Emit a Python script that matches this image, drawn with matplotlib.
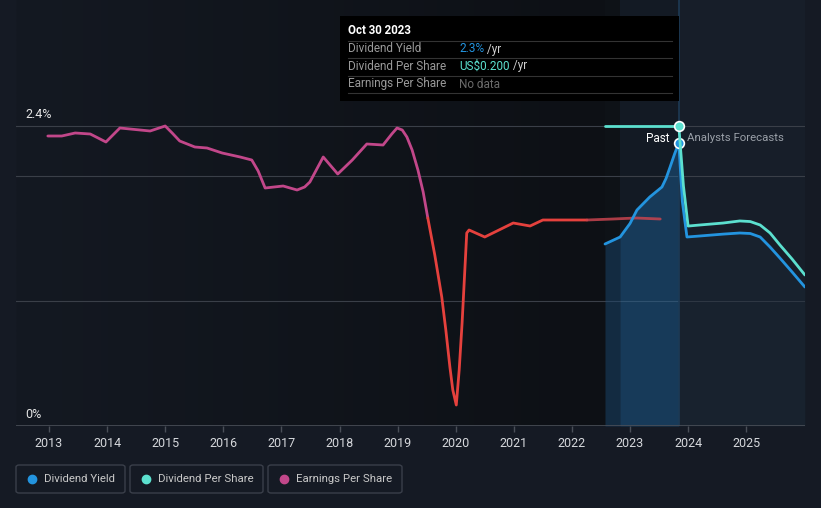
#!/usr/bin/env python

"""
Dividend yield / dividend per share / earnings per share history and forecast
"""

import numpy as np
import matplotlib
matplotlib.use("Agg")
import matplotlib.pyplot as plt
from matplotlib.patches import Rectangle, FancyBboxPatch
from matplotlib.colors import LinearSegmentedColormap

plt.rcParams["font.family"] = ["Roboto", "DejaVu Sans"]

# earnings per share (US$), past
eps_year = [2012.98, 2013.22, 2013.45, 2013.71, 2013.98, 2014.22, 2014.74,
            2015.00, 2015.12, 2015.25, 2015.51, 2015.72, 2015.98, 2016.29,
            2016.49, 2016.60, 2016.72, 2017.03, 2017.27, 2017.40, 2017.49,
            2017.72, 2017.97, 2018.22, 2018.47, 2018.75, 2018.90, 2018.99,
            2019.08, 2019.16, 2019.25, 2019.35, 2019.44, 2019.52]
eps_val = [2.90, 2.90, 2.93, 2.92, 2.84, 2.98, 2.95,
           3.00, 2.93, 2.85, 2.79, 2.78, 2.73, 2.69,
           2.66, 2.55, 2.38, 2.40, 2.36, 2.39, 2.44,
           2.69, 2.52, 2.66, 2.82, 2.81, 2.92, 2.98,
           2.96, 2.89, 2.76, 2.56, 2.34, 2.08]

# the part drawn in red (earnings fall)
eps_red_year = [2019.52, 2019.64, 2019.76, 2019.83, 2019.90, 2019.95, 2020.01,
                2020.06, 2020.11, 2020.19, 2020.23, 2020.50, 2020.99, 2021.28,
                2021.50, 2022.26, 2022.71, 2023.10, 2023.52]
eps_red_val = [2.08, 1.71, 1.29, 0.96, 0.59, 0.36, 0.21,
               0.56, 1.03, 1.93, 1.96, 1.89, 2.03, 2.00,
               2.06, 2.06, 2.07, 2.08, 2.07]

# dividend yield (%)
dy_past_year = [2022.57, 2022.83, 2023.00, 2023.12, 2023.34, 2023.55,
                2023.62, 2023.69, 2023.77, 2023.84]
dy_past_val = [1.456, 1.512, 1.62, 1.728, 1.832, 1.912,
               1.98, 2.072, 2.18, 2.264]
dy_fc_year = [2023.84, 2023.90, 2023.98, 2024.20, 2024.60, 2024.89, 2025.07,
              2025.24, 2025.41, 2025.58, 2025.79, 2026.01]
dy_fc_val = [2.264, 1.80, 1.512, 1.52, 1.535, 1.544, 1.540,
             1.512, 1.432, 1.344, 1.232, 1.112]

# dividend per share (US$)
dps_past_year = [2022.57, 2023.84]
dps_past_val = [0.200, 0.200]
dps_fc_year = [2023.84, 2023.92, 2024.00, 2024.20, 2024.60, 2024.89, 2025.07,
               2025.24, 2025.41, 2025.58, 2025.79, 2026.01]
dps_fc_val = [0.200, 0.160, 0.1333, 0.134, 0.1353, 0.1367, 0.1363,
              0.1340, 0.1287, 0.1207, 0.1113, 0.1007]

years = list(range(2013, 2026))
now = 2023.84

W, H = 821, 508
BG = "#151a24"
C_DY = "#2394df"
C_DPS = "#5ce0cf"
C_EPS = "#c2478a"
C_RED = "#e5413d"


def fx(x):
    return x / W


def fy(y):
    return 1.0 - y / H


def main():

    fig = plt.figure(figsize=(W / 100, H / 100), dpi=100)
    fig.patch.set_facecolor(BG)

    ax = fig.add_axes([fx(16), fy(426), (805 - 16) / W, 426 / H])
    ax.set_facecolor("#171e29")
    xmin, xmax = 2012.432, 2026.012
    ytop = 3.408
    ax.set_xlim(xmin, xmax)
    ax.set_ylim(0, ytop)

    # darker past region, fading to the right
    cmap = LinearSegmentedColormap.from_list("past", ["#141922", "#0d1015"])
    grad = np.linspace(0, 1, 256).reshape(1, -1)
    ax.imshow(grad, extent=(xmin, 2022.57, 0, ytop), aspect="auto",
              cmap=cmap, zorder=0)
    ax.axvspan(2022.57, 2022.83, color="#0e1217", lw=0, zorder=0.1)
    ax.axvspan(2022.83, now, color="#131a24", lw=0, zorder=0.1)

    # grid
    for g in [1.0, 2.0, 2.4]:
        ax.axhline(g, color="#3a3f48", lw=0.8, zorder=1)
    ax.axhline(0, color="#4a4f58", lw=1.2, zorder=2)

    # fill under yield line
    ax.fill_between(dy_past_year[:2], dy_past_val[:2], 0, color="#1a4a75",
                    alpha=0.45, lw=0, zorder=1.5)
    ax.fill_between(dy_past_year[1:], dy_past_val[1:], 0, color="#1f6fb0",
                    alpha=0.38, lw=0, zorder=1.5)
    ax.fill_between(dy_fc_year, dy_fc_val, 0, color="#1a2a3a",
                    alpha=0.35, lw=0, zorder=1.5)
    ax.axvline(now, color="#1d3a55", lw=1.2, zorder=1.6)

    # eps on its own scale
    ax_eps = ax.twinx()
    ax_eps.set_ylim(0, 4.26)
    ax_eps.axis("off")
    ax_eps.plot(eps_year, eps_val, color=C_EPS, lw=2.0,
                solid_capstyle="round", solid_joinstyle="round")
    ax_eps.plot(eps_red_year[:-3], eps_red_val[:-3], color=C_RED, lw=2.0,
                solid_capstyle="round", solid_joinstyle="round")
    ax_eps.plot(eps_red_year[-4:], eps_red_val[-4:], color="#c8444f", lw=2.0,
                alpha=0.85, solid_capstyle="round")

    # dps on its own scale
    ax_dps = ax.twinx()
    ax_dps.set_ylim(0, 0.284)
    ax_dps.axis("off")
    ax_dps.plot(dps_past_year, dps_past_val, color=C_DPS, lw=2.0,
                solid_capstyle="round", zorder=3)
    ax_dps.plot(dps_fc_year, dps_fc_val, color=C_DPS, lw=2.0,
                solid_capstyle="round", solid_joinstyle="round", zorder=3)
    ax_dps.plot([now], [dps_past_val[-1]], "o", ms=7, color=C_DPS,
                mec="white", mew=1.2, zorder=5)

    # yield on the main scale
    ax_dy = ax.twinx()
    ax_dy.set_ylim(0, ytop)
    ax_dy.axis("off")
    ax_dy.plot(dy_past_year, dy_past_val, color=C_DY, lw=2.0,
               solid_capstyle="round", solid_joinstyle="round", zorder=3)
    ax_dy.plot(dy_fc_year, dy_fc_val, color=C_DY, lw=2.0,
               solid_capstyle="round", solid_joinstyle="round", zorder=3)
    ax_dy.plot([now], [dy_past_val[-1]], "o", ms=7, color=C_DY,
               mec="white", mew=1.2, zorder=5)
    ax_dps.set_zorder(ax_dy.get_zorder() + 1)
    ax_dps.patch.set_visible(False)

    # axes styling
    for s in ax.spines.values():
        s.set_visible(False)
    ax.set_yticks([])
    ax.set_xticks(years)
    ax.set_xticklabels([str(y) for y in years])
    ax.tick_params(axis="x", colors="#4a4f58", length=4, width=1,
                   labelcolor="#d6d8dc", labelsize=9, pad=4)

    ax.text(2013 - 24 / 58.1, 2.4 + 12 * 0.008, "2.4%", color="#e6e6e6",
            fontsize=9, va="center", ha="left")
    ax.text(2013 - 24 / 58.1, 12 * 0.008, "0%", color="#e6e6e6",
            fontsize=9, va="center", ha="left")
    ax_dps.text(now - 9 / 58.1, 0.2 - 12 / 300 * 0.2, "Past", color="white",
                fontsize=8.5, ha="right", va="center", zorder=6)
    ax_dps.text(now + 8 / 58.1, 0.2 - 12 / 300 * 0.2, "Analysts Forecasts",
                color="#9aa0a8", fontsize=8.2, ha="left", va="center",
                zorder=6)

    # tooltip
    fig.add_artist(Rectangle((fx(340), fy(101)), 339 / W, 85 / H,
                             transform=fig.transFigure, facecolor="black",
                             edgecolor="none", zorder=10))
    fig.text(fx(348), fy(31), "Oct 30 2023", color="white", fontsize=8.3,
             fontweight="bold", va="center", zorder=11)
    for yy in [41, 58, 76, 93]:
        fig.add_artist(plt.Line2D([fx(348), fx(672)], [fy(yy), fy(yy)],
                                  transform=fig.transFigure,
                                  color="#333333", lw=0.8, zorder=11))
    rows = [("Dividend Yield", 49, "2.3%", C_DY, " /yr"),
            ("Dividend Per Share", 66, "US$0.200", C_DPS, " /yr"),
            ("Earnings Per Share", 84, "No data", "#6b6b6b", "")]
    for label, yy, val, col, unit in rows:
        fig.text(fx(348), fy(yy), label, color="#9a9a9a", fontsize=8.5,
                 va="center", zorder=11)
        t = fig.text(fx(459), fy(yy), val, color=col, fontsize=8.5,
                     va="center", zorder=11)
        if unit:
            fig.canvas.draw()
            bb = t.get_window_extent()
            fig.text(bb.x1 / W, fy(yy), unit, color="#cfcfcf", fontsize=8.5,
                     va="center", zorder=11)

    # legend boxes
    items = [("Dividend Yield", C_DY, 16, 125),
             ("Dividend Per Share", C_DPS, 130, 263),
             ("Earnings Per Share", C_EPS, 268, 402)]
    for label, col, x0, x1 in items:
        fig.add_artist(FancyBboxPatch((fx(x0), fy(493)), (x1 - x0) / W, 28 / H,
                                      boxstyle="round,pad=0,rounding_size=0.004",
                                      transform=fig.transFigure,
                                      facecolor="none", edgecolor="#3a3f4a",
                                      lw=1.0))
        fig.add_artist(plt.Line2D([fx(x0 + 16)], [fy(479)], marker="o", ms=6,
                                  color=col, transform=fig.transFigure))
        fig.text(fx(x0 + 28), fy(479), label, color="#c8c8c8", fontsize=8.2,
                 va="center")

    fig.savefig("out.png", dpi=100, facecolor=BG)


if __name__ == "__main__":

    main()
